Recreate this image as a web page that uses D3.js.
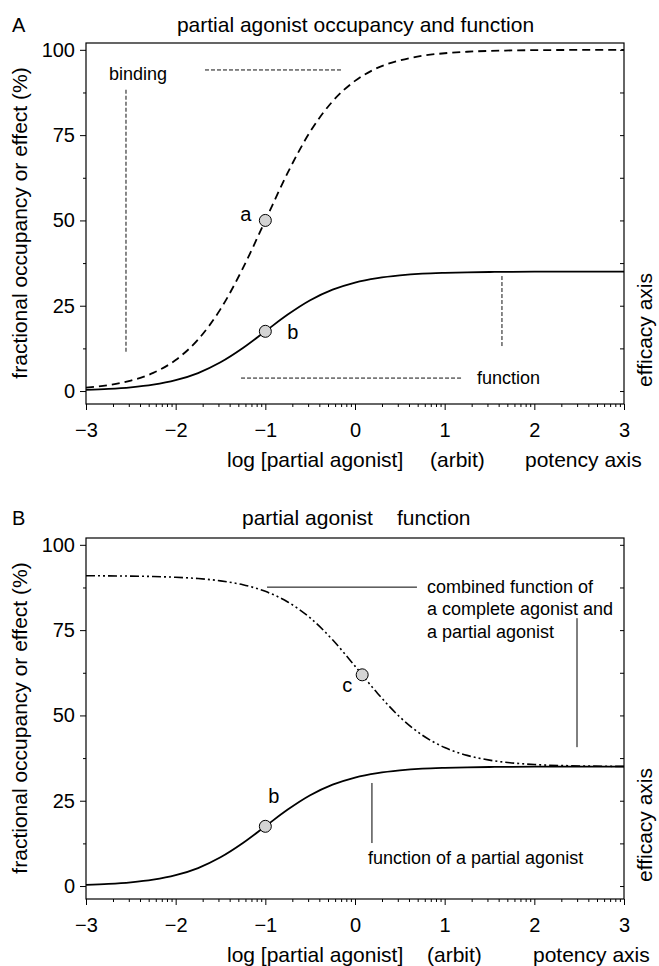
<!DOCTYPE html>
<html>
<head>
<meta charset="utf-8">
<script src="https://cdn.jsdelivr.net/npm/d3@7"></script>
<style>
  body { margin: 0; background: #fff; }
  svg { display: block; font-family: "Liberation Sans", Arial, sans-serif; }
</style>
</head>
<body>
<div id="chart"></div>
<script>
// log [partial agonist] values where the curves were read
var logConc = [-3, -2.75, -2.5, -2.25, -2, -1.75, -1.5, -1.25, -1, -0.75, -0.5, -0.25,
               0, 0.25, 0.5, 0.75, 1, 1.25, 1.5, 1.75, 2, 2.5, 3];

// panel A, dashed: binding (occupancy, %)
var binding = [0.99, 1.75, 3.07, 5.32, 9.09, 15.1, 24.0, 36.0, 50.0, 64.0, 76.0, 84.9,
               90.9, 94.7, 96.9, 98.25, 99.0, 99.44, 99.68, 99.82, 99.9, 99.97, 99.99];

// panels A and B, solid: function of a partial agonist (%)
var partialFunction = [0.35, 0.61, 1.07, 1.86, 3.18, 5.27, 8.41, 12.6, 17.5, 22.4, 26.6, 29.7,
                       31.8, 33.1, 33.9, 34.4, 34.65, 34.8, 34.89, 34.94, 34.97, 34.99, 35.0];

// panel B, dash-dot-dot: combined function of complete + partial agonist (%)
var combinedFunction = [90.94, 90.90, 90.83, 90.71, 90.49, 90.11, 89.44, 88.29, 86.36, 83.26, 78.58, 72.16,
                        64.45, 56.52, 49.55, 44.23, 40.59, 38.29, 36.90, 36.08, 35.61, 35.20, 35.06];

var pointsA = [{x: -1, y: 50, label: "a"}, {x: -1, y: 17.5, label: "b"}];
var pointsB = [{x: -1, y: 17.5, label: "b"}, {x: 0.08, y: 61.9, label: "c"}];

var xMajor = [-3, -2, -1, 0, 1, 2, 3];
var yMajor = [0, 25, 50, 75, 100];
var yMinor = [12.5, 37.5, 62.5, 87.5];
var yRight = [0, 12.5, 25, 37.5, 50, 62.5, 75, 87.5, 100];

var W = 659, H = 966;
var svg = d3.select('#chart').append('svg')
    .attr('width', W)
    .attr('height', H);

var x = d3.scaleLog().domain([1e-3, 1e3]).range([86, 624]);
var y = d3.scaleLinear().domain([-3.8, 102]).range([404, 43]);
function px(v) { return x(Math.pow(10, v)); }

function drawPanel(top, cfg) {
    var g = svg.append('g').attr('transform', 'translate(0,' + top + ')');

    // bottom axis, majors with labels, log minors
    var xAx = g.append('g').attr('transform', 'translate(0,404)')
        .call(d3.axisBottom(x)
            .tickValues(xMajor.map(function(d) { return Math.pow(10, d); }))
            .tickSize(6).tickPadding(13)
            .tickFormat(function(d) { return d3.format('d')(Math.round(Math.log10(d))); }));
    var minors = x.ticks().filter(function(d) {
        return Math.abs(Math.log10(d) - Math.round(Math.log10(d))) > 1e-6;
    });
    var xMin = g.append('g').attr('transform', 'translate(0,404)')
        .call(d3.axisBottom(x).tickValues(minors).tickSize(3).tickFormat(''));

    var yAx = g.append('g').attr('transform', 'translate(86,0)')
        .call(d3.axisLeft(y).tickValues(yMajor).tickSize(6).tickPadding(5));
    var yMin = g.append('g').attr('transform', 'translate(86,0)')
        .call(d3.axisLeft(y).tickValues(yMinor).tickSize(3).tickFormat(''));
    var yR = g.append('g').attr('transform', 'translate(624,0)')
        .call(d3.axisRight(y).tickValues(yRight).tickSize(-4).tickFormat(''));

    [xAx, xMin, yAx, yMin, yR].forEach(function(a) {
        a.select('.domain').remove();
        a.attr('font-family', null).attr('font-size', 20);
        a.selectAll('text').attr('fill', '#000');
    });

    g.append('rect')
        .attr('x', 86).attr('y', 43)
        .attr('width', 538).attr('height', 361)
        .attr('fill', 'none').attr('stroke', '#000').attr('stroke-width', 1.2);

    // curves
    var line = d3.line()
        .x(function(d) { return px(d[0]); })
        .y(function(d) { return y(d[1]); })
        .curve(d3.curveMonotoneX);

    cfg.curves.forEach(function(c) {
        g.append('path')
            .datum(d3.zip(logConc, c.values))
            .attr('d', line)
            .attr('fill', 'none')
            .attr('stroke', '#000')
            .attr('stroke-width', c.width)
            .attr('stroke-dasharray', c.dash);
    });

    // annotation lines
    cfg.lines.forEach(function(l) {
        g.append('line')
            .attr('x1', px(l[0])).attr('y1', y(l[1]))
            .attr('x2', px(l[2])).attr('y2', y(l[3]))
            .attr('stroke', cfg.lineColor)
            .attr('stroke-width', 1)
            .attr('stroke-dasharray', cfg.lineDash);
    });

    cfg.notes.forEach(function(n) {
        var t = g.append('text')
            .attr('x', px(n.x)).attr('y', y(n.y))
            .attr('font-size', 18);
        n.text.forEach(function(s, i) {
            t.append('tspan').attr('x', px(n.x)).attr('dy', i ? 22.5 : 0).text(s);
        });
    });

    // points
    g.selectAll('circle.pt').data(cfg.points)
        .enter().append('circle')
        .attr('class', 'pt')
        .attr('cx', function(d) { return px(d.x); })
        .attr('cy', function(d) { return y(d.y); })
        .attr('r', 6)
        .attr('fill', '#d4d4d4')
        .attr('stroke', '#000')
        .attr('stroke-width', 1);

    g.selectAll('text.pl').data(cfg.points)
        .enter().append('text')
        .attr('class', 'pl')
        .attr('x', function(d, i) { return px(d.x) + cfg.labelOff[i][0]; })
        .attr('y', function(d, i) { return y(d.y) + cfg.labelOff[i][1]; })
        .attr('text-anchor', function(d, i) { return cfg.labelOff[i][2]; })
        .attr('font-size', 20)
        .text(function(d) { return d.label; });

    // panel letter and titles
    g.append('text').attr('x', 12).attr('y', cfg.titleY).attr('font-size', 20).text(cfg.letter);
    cfg.titles.forEach(function(t) {
        g.append('text').attr('x', t[0]).attr('y', cfg.titleY)
            .attr('text-anchor', t[2]).attr('font-size', 21).text(t[1]);
    });

    cfg.xTitles.forEach(function(t) {
        g.append('text').attr('x', t[0]).attr('y', 466.5)
            .attr('font-size', 21).text(t[1]);
    });

    g.append('text')
        .attr('transform', 'translate(27,223) rotate(-90)')
        .attr('text-anchor', 'middle')
        .attr('font-size', 21)
        .text('fractional occupancy or effect (%)');

    g.append('text')
        .attr('transform', 'translate(652,330) rotate(-90)')
        .attr('text-anchor', 'middle')
        .attr('font-size', 21)
        .text('efficacy axis');
}

drawPanel(0, {
    letter: 'A',
    titleY: 32,
    titles: [[355.5, 'partial agonist occupancy and function', 'middle']],
    xTitles: [[227, 'log [partial agonist]'], [430, '(arbit)'], [525, 'potency axis']],
    curves: [
        {values: binding, dash: '8,5', width: 1.8},
        {values: partialFunction, dash: null, width: 1.8}
    ],
    lineColor: '#111',
    lineDash: '4,2',
    lines: [
        [-1.673, 94.1, -0.134, 94.1],
        [-2.554, 88.3, -2.554, 11.1],
        [-1.271, 3.8, 1.193, 3.8],
        [1.639, 33.7, 1.639, 12.6]
    ],
    notes: [
        {x: -2.744, y: 91.2, text: ['binding']},
        {x: 1.36, y: 2.05, text: ['function']}
    ],
    points: pointsA,
    labelOff: [[-14, 1, 'end'], [22, 8, 'start']]
});

drawPanel(495, {
    letter: 'B',
    titleY: 30,
    titles: [[242, 'partial agonist', 'start'], [397, 'function', 'start']],
    xTitles: [[227, 'log [partial agonist]'], [427, '(arbit)'], [533, 'potency axis']],
    curves: [
        {values: combinedFunction, dash: '9,3,2,3,2,3', width: 1.6},
        {values: partialFunction, dash: null, width: 1.8}
    ],
    lineColor: '#000',
    lineDash: null,
    lines: [
        [-0.981, 87.6, 0.691, 87.6],
        [2.476, 78.5, 2.476, 40.7],
        [0.189, 30.2, 0.189, 12.6]
    ],
    notes: [
        {x: 0.803, y: 85.9, text: ['combined function of', 'a complete agonist and', 'a partial agonist']},
        {x: 0.145, y: 6.4, text: ['function of a partial agonist']}
    ],
    points: pointsB,
    labelOff: [[3, -23, 'start'], [-10, 17, 'end']]
});
</script>
</body>
</html>
